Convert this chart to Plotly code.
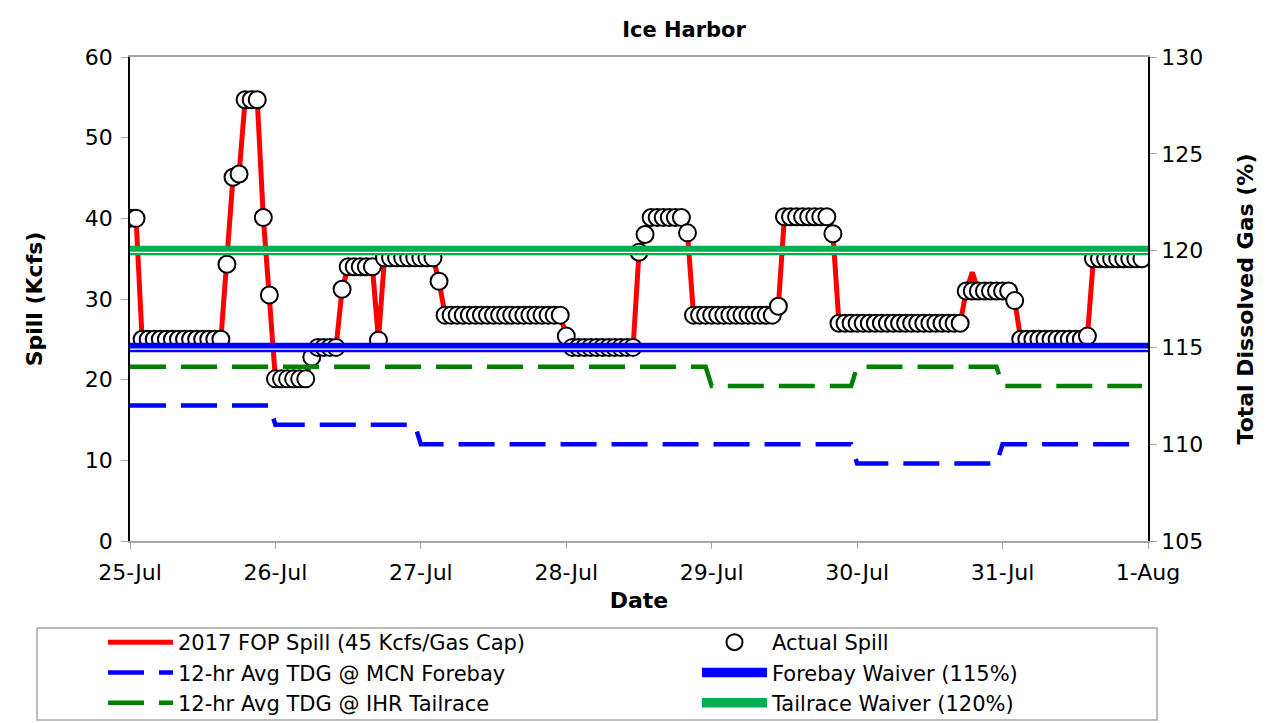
import pandas as pd
import plotly.graph_objects as go

# hourly values, 25-Jul 00:00 through 31-Jul 23:00
hours = pd.date_range("2017-07-25 00:00", periods=168, freq="h")

actual_spill = ([40.0] * 2 + [25.0] * 14 + [34.3, 45.1, 45.5] + [54.7] * 3 + [40.1, 30.5]
                + [20.1] * 6 + [22.8] + [24.0] * 4 + [31.2] + [34.0] * 5 + [24.9] + [35.1] * 9
                + [32.2] + [28.0] * 20 + [25.4] + [24.0] * 11 + [35.8, 38.0] + [40.1] * 6 + [38.2]
                + [28.0] * 14 + [29.1] + [40.2] * 8 + [38.1] + [27.0] * 21 + [31.0] * 8 + [29.8]
                + [25.0] * 11 + [25.4] + [35.0] * 9)

fop_spill = ([40.0] * 2 + [25.0] * 5 + [25.5] + [25.0] * 5 + [25.5] + [25.0] * 2
             + [34.3, 45.1, 45.5] + [54.7] * 3 + [40.1, 30.5] + [20.1] * 6 + [22.8] + [24.0] * 4
             + [31.2] + [34.0] * 5 + [24.9] + [35.1] * 9 + [32.2]
             + [28.0] * 8 + [27.6] + [28.0] * 3 + [27.6] + [28.0] * 3 + [27.6] + [28.0] * 3
             + [25.4] + [23.7] * 11 + [35.8, 38.0] + [40.1] * 6 + [38.2]
             + [28.0] + [27.6] + [28.0] * 3 + [27.6] + [28.0] * 4 + [27.6] + [28.0] * 3
             + [29.1] + [40.2] * 8 + [38.1]
             + [27.0] + [26.7] + [27.0] * 2 + [26.7] + [27.0] * 4 + [26.7] + [27.0] * 4 + [26.7]
             + [27.0] * 4 + [26.7] + [27.0]
             + [31.0] + [33.3] + [31.0] * 6 + [29.8]
             + [25.0] * 4 + [25.5] + [25.0] * 2 + [25.5] + [25.0] * 3 + [25.4] + [35.0] * 9)

mcn_forebay_tdg = [112.0] * 24 + [111.0] * 24 + [110.0] * 72 + [109.0] * 24 + [110.0] * 24
ihr_tailrace_tdg = [114.0] * 96 + [113.0] * 24 + [114.0] * 24 + [113.0] * 24

forebay_waiver = 115
tailrace_waiver = 120
waiver_x = ["2017-07-25 00:00", "2017-08-01 00:00"]

assert len(actual_spill) == len(fop_spill) == len(mcn_forebay_tdg) == len(ihr_tailrace_tdg) == 168

FONT = "DejaVu Sans"
y2_range = [105, 130]
plot_h = 484
white_off = 1.8 * (y2_range[1] - y2_range[0]) / plot_h  # thin white stripe sits a bit low

# page body adds an 8px offset, so the figure is drawn 8px smaller
W, H = 1265, 715

fig = go.Figure()

# left column of the legend -> "legend", right column -> "legend2"
fig.add_trace(go.Scatter(x=hours, y=fop_spill, name="2017 FOP Spill (45 Kcfs/Gas Cap)",
                         mode="lines", line=dict(color="#FF0000", width=5),
                         legend="legend", legendrank=1))
fig.add_trace(go.Scatter(x=hours, y=actual_spill, name="Actual Spill", mode="markers",
                         marker=dict(symbol="circle", size=17, color="white",
                                     line=dict(color="black", width=2)),
                         legend="legend2", legendrank=1))
fig.add_trace(go.Scatter(x=hours, y=mcn_forebay_tdg, name="12-hr Avg TDG @ MCN Forebay",
                         mode="lines", yaxis="y2", legend="legend", legendrank=2,
                         line=dict(color="#0000FF", width=4.5, dash="36px,15px")))
fig.add_trace(go.Scatter(x=hours, y=ihr_tailrace_tdg, name="12-hr Avg TDG @ IHR Tailrace",
                         mode="lines", yaxis="y2", legend="legend", legendrank=3,
                         line=dict(color="#008000", width=4.5, dash="36px,15px")))

for val, color, label, rank in [(forebay_waiver, "#0000FF", "Forebay Waiver (115%)", 2),
                                (tailrace_waiver, "#00B050", "Tailrace Waiver (120%)", 3)]:
    fig.add_trace(go.Scatter(x=waiver_x, y=[val, val], name=label, mode="lines", yaxis="y2",
                             line=dict(color=color, width=9.5), legend="legend2",
                             legendrank=rank))
    fig.add_trace(go.Scatter(x=waiver_x, y=[val - white_off] * 2, mode="lines", yaxis="y2",
                             line=dict(color="white", width=1.3), showlegend=False,
                             hoverinfo="skip"))

# legend frame
fig.add_shape(type="rect", xref="paper", yref="paper",
              x0=(37 - 130) / 1018, x1=(1157 - 130) / 1018,
              y0=(541 - 628) / 484, y1=(541 - 720) / 484,
              line=dict(color="#A6A6A6", width=1.5), fillcolor="rgba(0,0,0,0)")

legend_common = dict(orientation="v", yanchor="top", xanchor="left", y=(541 - 622) / 484,
                     bgcolor="rgba(0,0,0,0)", borderwidth=0, traceorder="normal",
                     font=dict(family=FONT, size=21), tracegroupgap=0, itemwidth=65)

fig.update_layout(
    width=W, height=H,
    margin=dict(l=122, r=125, t=49, b=182, autoexpand=False),
    paper_bgcolor="white", plot_bgcolor="white",
    font=dict(family=FONT, size=22, color="black"),
    title=dict(text="Ice Harbor", x=676 / W, xref="container", xanchor="center",
               y=1 - 22 / H, yref="container", yanchor="middle",
               font=dict(family=FONT, size=21, weight="bold", color="black")),
    showlegend=True,
    legend=dict(x=(103 - 130) / 1018, **legend_common),
    legend2=dict(x=(697 - 130) / 1018, **legend_common),
    xaxis=dict(range=["2017-07-25", "2017-08-01"], tickformat="%-d-%b", dtick=86400000,
               tick0="2017-07-25", showgrid=False, showline=True, linecolor="#A6A6A6",
               linewidth=1.5, mirror=True, ticks="outside", tickcolor="#A6A6A6", ticklen=6,
               ticklabelstandoff=5, zeroline=False,
               title=dict(text="Date", standoff=8,
                          font=dict(family=FONT, size=22, weight="bold"))),
    yaxis=dict(range=[0, 60], dtick=10, showgrid=False, showline=True, linecolor="black",
               linewidth=1.5, ticks="outside", tickcolor="#A6A6A6", ticklen=7, zeroline=False,
               ticklabelstandoff=4,
               title=dict(text="Spill (Kcfs)", standoff=36,
                          font=dict(family=FONT, size=22, weight="bold"))),
    yaxis2=dict(range=y2_range, dtick=5, overlaying="y", side="right", showgrid=False,
                showline=True, linecolor="black", linewidth=1.5, ticks="outside",
                tickcolor="#A6A6A6", ticklen=7, zeroline=False,
                title=dict(text="Total Dissolved Gas (%)", standoff=35,
                           font=dict(family=FONT, size=22, weight="bold"))),
)

fig.write_html("out.html")
